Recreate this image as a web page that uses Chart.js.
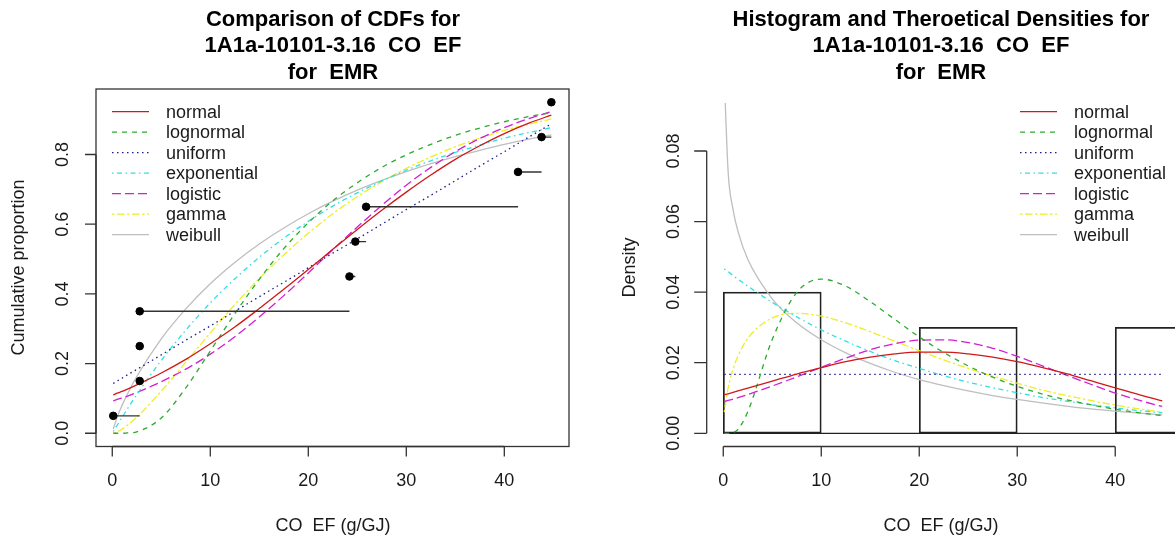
<!DOCTYPE html>
<html>
<head>
<meta charset="utf-8">
<script src="https://cdn.jsdelivr.net/npm/chart.js@4.4.1/dist/chart.umd.min.js"></script>
<style>
  body { margin: 0; background: #fff; }
  #wrap { position: relative; width: 1175px; height: 535px; overflow: hidden; background: #fff; }
  canvas { position: absolute; top: 0; }
</style>
</head>
<body>
<div id="wrap">
  <canvas id="cdf-chart" width="587" height="535" style="left:0"></canvas>
  <canvas id="density-chart" width="588" height="535" style="left:587px"></canvas>
</div>
<script>
// Observed CO EF values (g/GJ) and their plotting positions
const obsX = [0.1, 2.8, 2.8, 2.8, 24.2, 24.8, 25.9, 41.4, 43.8, 44.8];
const obsP = [0.05, 0.15, 0.25, 0.35, 0.45, 0.55, 0.65, 0.75, 0.85, 0.95];

const curveX = [0.1, 0.5, 1, 1.5, 2.5, 5, 7.5, 10, 12.5, 15, 17.5, 20, 22.5, 25, 27.5, 30, 32.5, 35, 37.5, 40, 42.5, 44.8];

// Fitted CDFs
const normalCdf      = [0.110, 0.115, 0.120, 0.126, 0.139, 0.173, 0.212, 0.257, 0.305, 0.358, 0.413, 0.470, 0.528, 0.585, 0.640, 0.692, 0.741, 0.786, 0.825, 0.860, 0.890, 0.913];
const lognormalCdf   = [0.000, 0.000, 0.000, 0.001, 0.004, 0.044, 0.130, 0.236, 0.343, 0.442, 0.530, 0.604, 0.667, 0.719, 0.763, 0.799, 0.829, 0.855, 0.876, 0.894, 0.909, 0.920];
const uniformCdf     = [0.143, 0.150, 0.158, 0.167, 0.183, 0.225, 0.267, 0.308, 0.350, 0.392, 0.433, 0.475, 0.517, 0.558, 0.600, 0.642, 0.683, 0.725, 0.767, 0.808, 0.850, 0.888];
const exponentialCdf = [0.005, 0.023, 0.046, 0.068, 0.111, 0.209, 0.296, 0.374, 0.443, 0.505, 0.560, 0.608, 0.652, 0.690, 0.724, 0.755, 0.782, 0.806, 0.827, 0.847, 0.863, 0.877];
const logisticCdf    = [0.093, 0.097, 0.102, 0.106, 0.117, 0.148, 0.184, 0.227, 0.277, 0.334, 0.395, 0.460, 0.527, 0.592, 0.654, 0.712, 0.763, 0.808, 0.846, 0.877, 0.903, 0.923];
const gammaCdf       = [0.000, 0.004, 0.012, 0.022, 0.046, 0.121, 0.204, 0.288, 0.369, 0.444, 0.512, 0.574, 0.630, 0.679, 0.722, 0.760, 0.793, 0.822, 0.847, 0.869, 0.887, 0.902];
const weibullCdf     = [0.012, 0.046, 0.080, 0.110, 0.163, 0.271, 0.357, 0.429, 0.490, 0.543, 0.589, 0.630, 0.666, 0.698, 0.726, 0.751, 0.774, 0.794, 0.812, 0.829, 0.844, 0.856];

// Fitted densities
const normalPdf      = [0.0109, 0.0112, 0.0116, 0.0120, 0.0128, 0.0148, 0.0168, 0.0186, 0.0203, 0.0216, 0.0225, 0.0230, 0.0230, 0.0225, 0.0216, 0.0203, 0.0187, 0.0169, 0.0149, 0.0129, 0.0109, 0.0092];
const lognormalPdf   = [0.0000, 0.0000, 0.0002, 0.0011, 0.0061, 0.0266, 0.0399, 0.0437, 0.0417, 0.0373, 0.0323, 0.0273, 0.0229, 0.0191, 0.0159, 0.0133, 0.0112, 0.0095, 0.0081, 0.0068, 0.0058, 0.0050];
const exponentialPdf = [0.0466, 0.0458, 0.0447, 0.0437, 0.0417, 0.0371, 0.0330, 0.0293, 0.0261, 0.0232, 0.0206, 0.0184, 0.0163, 0.0145, 0.0129, 0.0115, 0.0102, 0.0091, 0.0081, 0.0072, 0.0064, 0.0058];
const logisticPdf    = [0.0090, 0.0093, 0.0097, 0.0101, 0.0110, 0.0134, 0.0160, 0.0187, 0.0213, 0.0237, 0.0254, 0.0264, 0.0265, 0.0257, 0.0241, 0.0218, 0.0192, 0.0165, 0.0139, 0.0114, 0.0093, 0.0076];
const gammaPdf       = [0.0060, 0.0129, 0.0182, 0.0219, 0.0269, 0.0327, 0.0340, 0.0332, 0.0313, 0.0288, 0.0261, 0.0234, 0.0208, 0.0184, 0.0162, 0.0142, 0.0123, 0.0107, 0.0093, 0.0080, 0.0069, 0.0060];
const weibullPdf     = [0.1011, 0.0740, 0.0634, 0.0572, 0.0493, 0.0381, 0.0313, 0.0265, 0.0228, 0.0198, 0.0173, 0.0152, 0.0135, 0.0120, 0.0107, 0.0096, 0.0086, 0.0077, 0.0069, 0.0063, 0.0057, 0.0052];
const uniformPdfX    = [0.1, 44.8];
const uniformPdf     = [0.0167, 0.0167];

// Histogram (bin mid points, densities) and its base line
const histMid     = [5, 15, 25, 35, 45];
const histDensity = [0.04, 0, 0.03, 0, 0.03];
const histEdges   = [0, 50];

// Axis ticks
const xTicks     = [0, 10, 20, 30, 40];
const cdfTicks   = [0, 0.2, 0.4, 0.6, 0.8];
const cdfLabels  = ['0.0', '0.2', '0.4', '0.6', '0.8'];
const densTicks  = [0, 0.02, 0.04, 0.06, 0.08];
const densLabels = ['0.00', '0.02', '0.04', '0.06', '0.08'];

const FONT = "'Liberation Sans', Arial, sans-serif";

// line look of each fitted distribution (R colours / lty)
const fitStyle = {
    normal:      { color: '#D01818', dash: [] },
    lognormal:   { color: '#2EAA2E', dash: [5, 5] },
    uniform:     { color: '#1C1C8E', dash: [1.5, 3.5] },
    exponential: { color: '#2EE0E6', dash: [1.5, 3.5, 5, 3.5] },
    logistic:    { color: '#D020D0', dash: [9, 4] },
    gamma:       { color: '#EEEE22', dash: [2.5, 2.5, 7.5, 2.5] },
    weibull:     { color: '#BEBEBE', dash: [] }
};

function toPoints(xs, ys) {
    return xs.map((x, i) => ({ x: x, y: ys[i] }));
}

function fitDataset(name, xs, ys) {
    return {
        type: 'line',
        label: name,
        data: toPoints(xs, ys),
        borderColor: fitStyle[name].color,
        borderDash: fitStyle[name].dash,
        borderWidth: 1.3,
        pointRadius: 0,
        cubicInterpolationMode: 'monotone',
        fill: false,
        order: 2
    };
}

// Draws R base-graphics style axes, titles and legend
const rStyle = {
    id: 'rStyle',
    afterDatasetsDraw(chart, args, opts) {
        const ctx = chart.ctx;
        const sx = chart.scales.x, sy = chart.scales.y;
        const a = chart.chartArea;
        ctx.save();
        ctx.strokeStyle = '#333';
        ctx.lineWidth = 1.3;
        ctx.setLineDash([]);

        if (opts.box) {
            ctx.strokeRect(a.left, a.top, a.right - a.left, a.bottom - a.top);
        }

        // x axis
        ctx.beginPath();
        ctx.moveTo(sx.getPixelForValue(opts.xTicks[0]), a.bottom);
        ctx.lineTo(sx.getPixelForValue(opts.xTicks[opts.xTicks.length - 1]), a.bottom);
        opts.xTicks.forEach(v => {
            const px = sx.getPixelForValue(v);
            ctx.moveTo(px, a.bottom);
            ctx.lineTo(px, a.bottom + 10);
        });
        // y axis
        ctx.moveTo(a.left, sy.getPixelForValue(opts.yTicks[0]));
        ctx.lineTo(a.left, sy.getPixelForValue(opts.yTicks[opts.yTicks.length - 1]));
        opts.yTicks.forEach(v => {
            const py = sy.getPixelForValue(v);
            ctx.moveTo(a.left, py);
            ctx.lineTo(a.left - opts.yTickLen, py);
        });
        ctx.stroke();

        ctx.fillStyle = '#1a1a1a';
        ctx.font = '18px ' + FONT;
        ctx.textAlign = 'center';
        ctx.textBaseline = 'middle';
        opts.xTicks.forEach(v => ctx.fillText(String(v), sx.getPixelForValue(v), 481));
        opts.yTicks.forEach((v, i) => {
            ctx.save();
            ctx.translate(a.left - 33, sy.getPixelForValue(v));
            ctx.rotate(-Math.PI / 2);
            ctx.fillText(opts.yLabels[i], 0, 0);
            ctx.restore();
        });

        const cx = opts.centerX;
        ctx.fillText(opts.xTitle, cx, 526);
        ctx.save();
        ctx.translate(a.left - 77, 267.5);
        ctx.rotate(-Math.PI / 2);
        ctx.fillText(opts.yTitle, 0, 0);
        ctx.restore();

        ctx.fillStyle = '#000';
        ctx.font = 'bold 22px ' + FONT;
        opts.title.forEach((t, i) => ctx.fillText(t, cx, 20 + i * 26.3));

        // legend
        ctx.font = '18px ' + FONT;
        ctx.textAlign = 'left';
        let row = 0;
        chart.data.datasets.forEach(ds => {
            if (!fitStyle[ds.label]) return;
            const y = opts.legendY + row * 20.5;
            ctx.strokeStyle = ds.borderColor;
            ctx.lineWidth = 1.3;
            ctx.setLineDash(ds.borderDash);
            ctx.beginPath();
            ctx.moveTo(opts.legendX, y);
            ctx.lineTo(opts.legendX + 37, y);
            ctx.stroke();
            ctx.fillStyle = '#1a1a1a';
            ctx.fillText(ds.label, opts.legendX + 54, y + 1);
            row++;
        });
        ctx.restore();
    }
};

// ---------- left panel: CDFs ----------
const cdfDatasets = [
    fitDataset('normal', curveX, normalCdf),
    fitDataset('lognormal', curveX, lognormalCdf),
    fitDataset('uniform', curveX, uniformCdf),
    fitDataset('exponential', curveX, exponentialCdf),
    fitDataset('logistic', curveX, logisticCdf),
    fitDataset('gamma', curveX, gammaCdf),
    fitDataset('weibull', curveX, weibullCdf)
];
// horizontal steps of the empirical CDF
for (let i = 0; i < obsX.length - 1; i++) {
    cdfDatasets.push({
        type: 'line',
        label: 'step' + i,
        data: [{ x: obsX[i], y: obsP[i] }, { x: obsX[i + 1], y: obsP[i] }],
        borderColor: '#333',
        borderWidth: 1.4,
        pointRadius: 0,
        order: 1
    });
}
cdfDatasets.push({
    type: 'scatter',
    label: 'observed',
    data: toPoints(obsX, obsP),
    backgroundColor: '#000',
    borderColor: '#000',
    pointRadius: 3.8,
    order: 0
});

new Chart(document.getElementById('cdf-chart'), {
    type: 'line',
    data: { datasets: cdfDatasets },
    plugins: [rStyle],
    options: {
        responsive: false,
        animation: false,
        layout: { padding: { left: 96, right: 18, top: 89, bottom: 88.5 } },
        scales: {
            x: { type: 'linear', min: -1.66, max: 46.6, display: false },
            y: { type: 'linear', min: -0.038, max: 0.988, display: false }
        },
        plugins: {
            legend: { display: false },
            tooltip: { enabled: false },
            rStyle: {
                box: true,
                yTickLen: 11,
                xTicks: xTicks,
                yTicks: cdfTicks,
                yLabels: cdfLabels,
                centerX: 333,
                xTitle: 'CO  EF (g/GJ)',
                yTitle: 'Cumulative proportion',
                title: ['Comparison of CDFs for', '1A1a-10101-3.16  CO  EF', 'for  EMR'],
                legendX: 112,
                legendY: 111.7
            }
        }
    }
});

// ---------- right panel: histogram and densities ----------
const densDatasets = [
    fitDataset('normal', curveX, normalPdf),
    fitDataset('lognormal', curveX, lognormalPdf),
    fitDataset('uniform', uniformPdfX, uniformPdf),
    fitDataset('exponential', curveX, exponentialPdf),
    fitDataset('logistic', curveX, logisticPdf),
    fitDataset('gamma', curveX, gammaPdf),
    fitDataset('weibull', curveX, weibullPdf),
    {
        type: 'bar',
        label: 'histogram',
        data: toPoints(histMid, histDensity),
        backgroundColor: 'rgba(0,0,0,0)',
        borderColor: '#222',
        borderWidth: 1.1,
        borderSkipped: false,
        barPercentage: 1,
        categoryPercentage: 1,
        order: 5
    },
    {
        type: 'line',
        label: 'base',
        data: histEdges.map(x => ({ x: x, y: 0 })),
        borderColor: '#222',
        borderWidth: 1.2,
        pointRadius: 0,
        order: 5
    }
];

new Chart(document.getElementById('density-chart'), {
    type: 'line',
    data: { datasets: densDatasets },
    plugins: [rStyle],
    options: {
        responsive: false,
        animation: false,
        layout: { padding: { left: 119.7, right: 0, top: 103, bottom: 88.5 } },
        scales: {
            x: { type: 'linear', min: -1.69, max: 46.1, offset: false, display: false,
                 ticks: { stepSize: 10, includeBounds: false } },
            y: { type: 'linear', min: -0.00374, max: 0.0936, display: false }
        },
        plugins: {
            legend: { display: false },
            tooltip: { enabled: false },
            rStyle: {
                box: false,
                yTickLen: 12.5,
                xTicks: xTicks,
                yTicks: densTicks,
                yLabels: densLabels,
                centerX: 354,
                xTitle: 'CO  EF (g/GJ)',
                yTitle: 'Density',
                title: ['Histogram and Theroetical Densities for', '1A1a-10101-3.16  CO  EF', 'for  EMR'],
                legendX: 433,
                legendY: 111.7
            }
        }
    }
});
</script>
</body>
</html>
